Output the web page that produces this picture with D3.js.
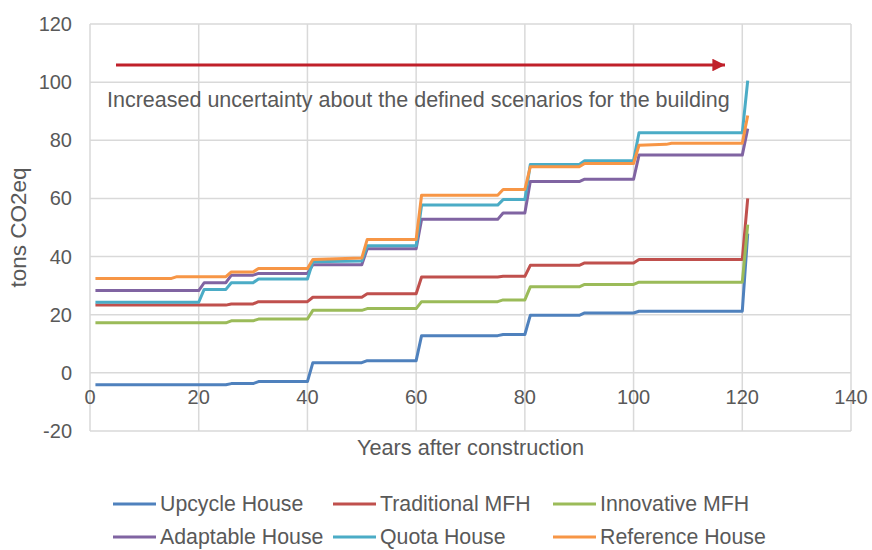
<!DOCTYPE html>
<html>
<head>
<meta charset="utf-8">
<script src="https://cdn.jsdelivr.net/npm/d3@7"></script>
<style>
  body { margin: 0; background: #fff; }
  text { font-family: "Liberation Sans", Arial, sans-serif; fill: #595959; }
</style>
</head>
<body>
<svg id="chart" width="872" height="550"></svg>
<script>
// years where the level changes (each step takes one year)
const years = [1, 15, 16, 20, 21, 25, 26, 30, 31, 40, 41, 50, 51, 60, 61, 75, 76, 80, 81, 90, 91, 100, 101, 106, 107, 120, 121]

const upcycle     = [-4.1, -4.1, -4.1, -4.1, -4.1, -4.1, -3.7, -3.7, -3.0, -3.0, 3.5, 3.5, 4.2, 4.2, 12.8, 12.8, 13.2, 13.2, 19.8, 19.8, 20.6, 20.6, 21.2, 21.2, 21.2, 21.2, 47.9]
const traditional = [23.3, 23.3, 23.3, 23.3, 23.3, 23.3, 23.7, 23.7, 24.5, 24.5, 26.0, 26.0, 27.2, 27.2, 33.0, 33.0, 33.2, 33.2, 37.0, 37.0, 37.8, 37.8, 39.0, 39.0, 39.0, 39.0, 60.0]
const innovative  = [17.2, 17.2, 17.2, 17.2, 17.2, 17.2, 17.9, 17.9, 18.5, 18.5, 21.5, 21.5, 22.1, 22.1, 24.5, 24.5, 25.1, 25.1, 29.6, 29.6, 30.4, 30.4, 31.2, 31.2, 31.2, 31.2, 51.0]
const adaptable   = [28.3, 28.3, 28.3, 28.3, 31.0, 31.0, 33.6, 33.6, 34.2, 34.2, 37.2, 37.2, 42.7, 42.7, 52.8, 52.8, 55.0, 55.0, 65.8, 65.8, 66.6, 66.6, 74.9, 74.9, 74.9, 74.9, 84.0]
const quota       = [24.3, 24.3, 24.3, 24.3, 28.7, 28.7, 31.0, 31.0, 32.3, 32.3, 38.2, 38.5, 43.7, 43.7, 57.7, 57.7, 59.6, 59.6, 71.7, 71.7, 73.0, 73.0, 82.6, 82.6, 82.6, 82.6, 100.5]
const reference   = [32.5, 32.5, 33.1, 33.1, 33.1, 33.1, 34.7, 34.7, 35.9, 35.9, 39.0, 39.5, 45.9, 45.9, 61.1, 61.1, 63.1, 63.1, 70.9, 70.9, 72.0, 72.0, 78.3, 78.6, 79.0, 79.0, 88.5]

const names = ["Upcycle House", "Traditional MFH", "Innovative MFH", "Adaptable House", "Quota House", "Reference House"]
const colors = ["#4F81BD", "#C0504D", "#9BBB59", "#8064A2", "#4BACC6", "#F79646"]
const series = [upcycle, traditional, innovative, adaptable, quota, reference]

const xTicks = [0, 20, 40, 60, 80, 100, 120, 140]
const yTicks = [-20, 0, 20, 40, 60, 80, 100, 120]

const note = "Increased uncertainty about the defined scenarios for the building"

let svg = d3.select("#chart")

let x = d3.scaleLinear().domain([0, 140]).range([90, 851])
let y = d3.scaleLinear().domain([-20, 120]).range([431, 24])

// gridlines
svg.append("g")
  .selectAll("line")
  .data(yTicks)
  .join("line")
  .attr("x1", x(0)).attr("x2", x(140))
  .attr("y1", d => y(d)).attr("y2", d => y(d))
  .style("stroke", "#D9D9D9")
  .style("stroke-width", 1.5)

svg.append("g")
  .selectAll("line")
  .data(xTicks)
  .join("line")
  .attr("x1", d => x(d)).attr("x2", d => x(d))
  .attr("y1", y(-20)).attr("y2", y(120))
  .style("stroke", "#D9D9D9")
  .style("stroke-width", 1.5)

// y tick labels
svg.append("g")
  .selectAll("text")
  .data(yTicks)
  .join("text")
  .attr("x", 72)
  .attr("y", d => y(d))
  .attr("dy", "0.35em")
  .attr("text-anchor", "end")
  .style("font-size", "20px")
  .text(d => d)

// x tick labels sit under the zero line
svg.append("g")
  .selectAll("text")
  .data(xTicks)
  .join("text")
  .attr("x", d => x(d))
  .attr("y", y(0) + 31)
  .attr("text-anchor", "middle")
  .style("font-size", "20px")
  .text(d => d)

svg.append("text")
  .attr("x", (x(0) + x(140)) / 2)
  .attr("y", 455)
  .attr("text-anchor", "middle")
  .style("font-size", "21.7px")
  .text("Years after construction")

svg.append("text")
  .attr("transform", `translate(26,${(y(-20) + y(120)) / 2}) rotate(-90)`)
  .attr("text-anchor", "middle")
  .style("font-size", "22.5px")
  .text("tons CO2eq")

// annotation arrow
svg.append("defs").append("marker")
  .attr("id", "head")
  .attr("viewBox", "0 0 10 10")
  .attr("refX", 10).attr("refY", 5)
  .attr("markerWidth", 4.2).attr("markerHeight", 4.2)
  .attr("markerUnits", "strokeWidth")
  .attr("orient", "auto")
  .append("path")
  .attr("d", "M0,0L10,5L0,10Z")
  .style("fill", "#C0202A")

svg.append("line")
  .attr("x1", 116).attr("y1", 65)
  .attr("x2", 725).attr("y2", 65)
  .style("stroke", "#C0202A")
  .style("stroke-width", 3)
  .attr("marker-end", "url(#head)")

svg.append("text")
  .attr("x", 107)
  .attr("y", 107)
  .style("font-size", "21.5px")
  .text(note)

// series lines
let line = d3.line()
  .x((d, i) => x(years[i]))
  .y(d => y(d))

svg.append("g")
  .selectAll("path")
  .data(series)
  .join("path")
  .attr("d", d => line(d))
  .style("fill", "none")
  .style("stroke", (d, i) => colors[i])
  .style("stroke-width", 3)
  .style("stroke-linejoin", "round")

// legend, two rows of three
let legend = svg.append("g")
  .selectAll("g")
  .data(names)
  .join("g")
  .attr("transform", (d, i) => `translate(${113 + (i % 3) * 220},${504 + Math.floor(i / 3) * 33})`)

legend.append("line")
  .attr("x1", 0).attr("x2", 43)
  .style("stroke", (d, i) => colors[i])
  .style("stroke-width", 3)

legend.append("text")
  .attr("x", 47)
  .attr("dy", "0.35em")
  .style("font-size", "21.3px")
  .text(d => d)
</script>
</body>
</html>
